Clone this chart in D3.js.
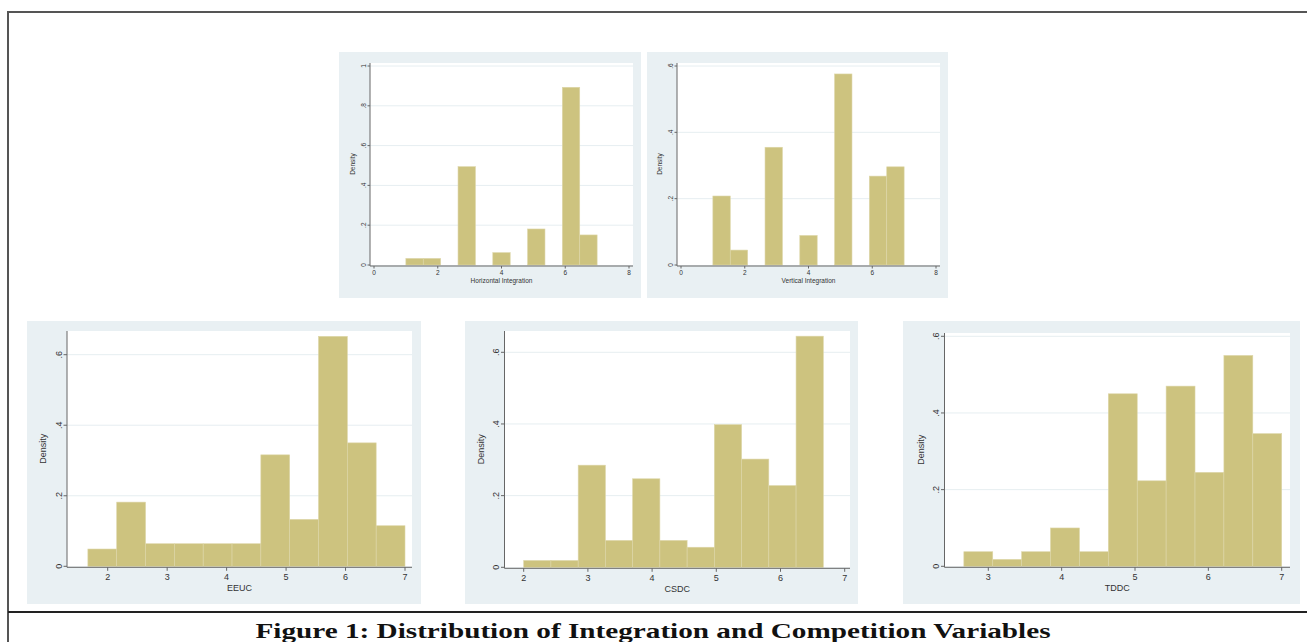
<!DOCTYPE html>
<html>
<head>
<meta charset="utf-8">
<script src="https://cdn.jsdelivr.net/npm/d3@7/dist/d3.min.js"></script>
<style>
  body { margin: 0; background: #fff; }
  svg { display: block; font-family: "Liberation Sans", Arial, sans-serif; }
</style>
</head>
<body>
<div id="chart"></div>
<script>
// histogram data (density per bin, 11 bins each)
const hiStart = 1, hiWidth = 6 / 11;
const hiDensity = [0.033, 0.033, 0, 0.494, 0, 0.062, 0, 0.181, 0, 0.893, 0.151];

const viStart = 1, viWidth = 6 / 11;
const viDensity = [0.208, 0.045, 0, 0.355, 0, 0.089, 0, 0.576, 0, 0.268, 0.296];

const eeucStart = 5 / 3, eeucWidth = (7 - 5 / 3) / 11;
const eeucDensity = [0.049, 0.182, 0.064, 0.064, 0.064, 0.064, 0.316, 0.133, 0.652, 0.350, 0.115];

const csdcStart = 2, csdcWidth = (20 / 3 - 2) / 11;
const csdcDensity = [0.019, 0.019, 0.285, 0.075, 0.247, 0.075, 0.056, 0.398, 0.302, 0.228, 0.645];

const tddcStart = 8 / 3, tddcWidth = (7 - 8 / 3) / 11;
const tddcDensity = [0.038, 0.018, 0.038, 0.100, 0.038, 0.450, 0.223, 0.470, 0.245, 0.550, 0.346];

const ticksTop = [0, 2, 4, 6, 8];
const ticksBottom = [2, 3, 4, 5, 6, 7];
const ticksTddc = [3, 4, 5, 6, 7];
const yTicksHi = [0, 0.2, 0.4, 0.6, 0.8, 1];
const yTicksOther = [0, 0.2, 0.4, 0.6];

const title = "Figure 1: Distribution of Integration and Competition Variables";

const W = 1307, H = 642;
const svg = d3.select("#chart").append("svg")
    .attr("width", W).attr("height", H);

// panels: background box, axis extents, scale ranges
const panels = [
  { name: "Horizontal Integration", start: hiStart, width: hiWidth, dens: hiDensity,
    xDom: [0, 8], xTicks: ticksTop, yDom: [0, 1], yTicks: yTicksHi,
    bg: [339, 52, 302, 246], axL: 370, axR: 633, axT: 63,
    xR: [374, 629], yR: [265, 66], fs: 6.5, small: true },
  { name: "Vertical Integration", start: viStart, width: viWidth, dens: viDensity,
    xDom: [0, 8], xTicks: ticksTop, yDom: [0, 0.6], yTicks: yTicksOther,
    bg: [647, 52, 301, 246], axL: 677, axR: 940, axT: 63,
    xR: [681, 936], yR: [265, 66], fs: 6.5, small: true },
  { name: "EEUC", start: eeucStart, width: eeucWidth, dens: eeucDensity,
    xDom: [2, 7], xTicks: ticksBottom, yDom: [0, 0.6], yTicks: yTicksOther,
    bg: [27, 321, 394, 283], axL: 67, axR: 412, axT: 331,
    xR: [107.7, 405], yR: [566.3, 354.7], fs: 9 },
  { name: "CSDC", start: csdcStart, width: csdcWidth, dens: csdcDensity,
    xDom: [2, 7], xTicks: ticksBottom, yDom: [0, 0.6], yTicks: yTicksOther,
    bg: [465, 321, 393, 283], axL: 504.5, axR: 850, axT: 331,
    xR: [523.7, 844.7], yR: [567.3, 352.3], fs: 9 },
  { name: "TDDC", start: tddcStart, width: tddcWidth, dens: tddcDensity,
    xDom: [3, 7], xTicks: ticksTddc, yDom: [0, 0.6], yTicks: yTicksOther,
    bg: [903, 321, 397, 283], axL: 944.5, axR: 1290, axT: 333,
    xR: [988.3, 1281.7], yR: [566.3, 336.3], fs: 9 }
];

const fmt = d => d === 0 ? "0" : d === 1 ? "1" : d3.format(".1f")(d).replace(/^0/, "");

panels.forEach(p => {
  const g = svg.append("g");
  const x = d3.scaleLinear().domain(p.xDom).range(p.xR);
  const y = d3.scaleLinear().domain(p.yDom).range(p.yR);
  const base = y(0);

  g.append("rect")
    .attr("x", p.bg[0]).attr("y", p.bg[1])
    .attr("width", p.bg[2]).attr("height", p.bg[3])
    .attr("fill", "#e9f0f3");

  g.append("rect")
    .attr("x", p.axL).attr("y", p.axT)
    .attr("width", p.axR - p.axL).attr("height", base - p.axT)
    .attr("fill", "#fff");

  // gridlines
  g.selectAll(".grid").data(p.yTicks.filter(t => t > 0)).enter()
    .append("line")
    .attr("x1", p.axL).attr("x2", p.axR)
    .attr("y1", d => y(d)).attr("y2", d => y(d))
    .attr("stroke", "#e6eef1").attr("stroke-width", 1);

  const bins = p.dens.map((d, i) => ({ x0: p.start + i * p.width, x1: p.start + (i + 1) * p.width, v: d }))
    .filter(b => b.v > 0);

  g.selectAll(".bar").data(bins).enter()
    .append("rect")
    .attr("x", d => x(d.x0))
    .attr("y", d => y(d.v))
    .attr("width", d => x(d.x1) - x(d.x0))
    .attr("height", d => base - y(d.v))
    .attr("fill", "#cdc37f")
    .attr("stroke", "#ddd6a8")
    .attr("stroke-width", 0.6);

  // axes
  const axCol = "#666";
  const tl = p.small ? 2.5 : 3.5;
  g.append("line")
    .attr("x1", p.axL).attr("x2", p.axL)
    .attr("y1", p.axT).attr("y2", base + 1)
    .attr("stroke", axCol).attr("stroke-width", 1);
  g.append("line")
    .attr("x1", p.axL).attr("x2", p.axR)
    .attr("y1", base + 1).attr("y2", base + 1)
    .attr("stroke", axCol).attr("stroke-width", 1);

  g.selectAll(".xt").data(p.xTicks).enter()
    .append("line")
    .attr("x1", d => x(d)).attr("x2", d => x(d))
    .attr("y1", base + 1).attr("y2", base + 1 + tl)
    .attr("stroke", axCol);
  g.selectAll(".xl").data(p.xTicks).enter()
    .append("text")
    .attr("x", d => x(d))
    .attr("y", base + 1 + tl + p.fs * 1.05)
    .attr("text-anchor", "middle")
    .attr("font-size", p.fs)
    .attr("fill", "#333")
    .text(d => d);

  g.selectAll(".yt").data(p.yTicks).enter()
    .append("line")
    .attr("x1", p.axL - tl).attr("x2", p.axL)
    .attr("y1", d => y(d)).attr("y2", d => y(d))
    .attr("stroke", axCol);
  g.selectAll(".yl").data(p.yTicks).enter()
    .append("text")
    .attr("transform", d => "translate(" + (p.axL - tl - 2) + "," + y(d) + ") rotate(-90)")
    .attr("text-anchor", "middle")
    .attr("font-size", p.fs)
    .attr("fill", "#333")
    .text(fmt);

  g.append("text")
    .attr("x", (p.axL + p.axR) / 2)
    .attr("y", base + 1 + tl + p.fs * 2.2)
    .attr("text-anchor", "middle")
    .attr("font-size", p.fs)
    .attr("fill", "#333")
    .text(p.name);

  g.append("text")
    .attr("transform", "translate(" + (p.axL - tl - p.fs * 1.9) + "," + ((p.axT + base) / 2) + ") rotate(-90)")
    .attr("text-anchor", "middle")
    .attr("font-size", p.fs)
    .attr("fill", "#333")
    .text("Density");
});

// frame lines
svg.append("line").attr("x1", 8).attr("x2", W).attr("y1", 12).attr("y2", 12)
  .attr("stroke", "#555").attr("stroke-width", 2);
svg.append("line").attr("x1", 8).attr("x2", 8).attr("y1", 11).attr("y2", H)
  .attr("stroke", "#555").attr("stroke-width", 2);
svg.append("line").attr("x1", 8).attr("x2", W).attr("y1", 612).attr("y2", 612)
  .attr("stroke", "#222").attr("stroke-width", 2);

svg.append("text")
  .attr("x", 653).attr("y", 638)
  .attr("text-anchor", "middle")
  .attr("font-family", "'Liberation Serif', 'Times New Roman', serif")
  .attr("font-weight", "bold")
  .attr("font-size", 22)
  .attr("textLength", 795)
  .attr("lengthAdjust", "spacingAndGlyphs")
  .attr("fill", "#111")
  .text(title);
</script>
</body>
</html>
